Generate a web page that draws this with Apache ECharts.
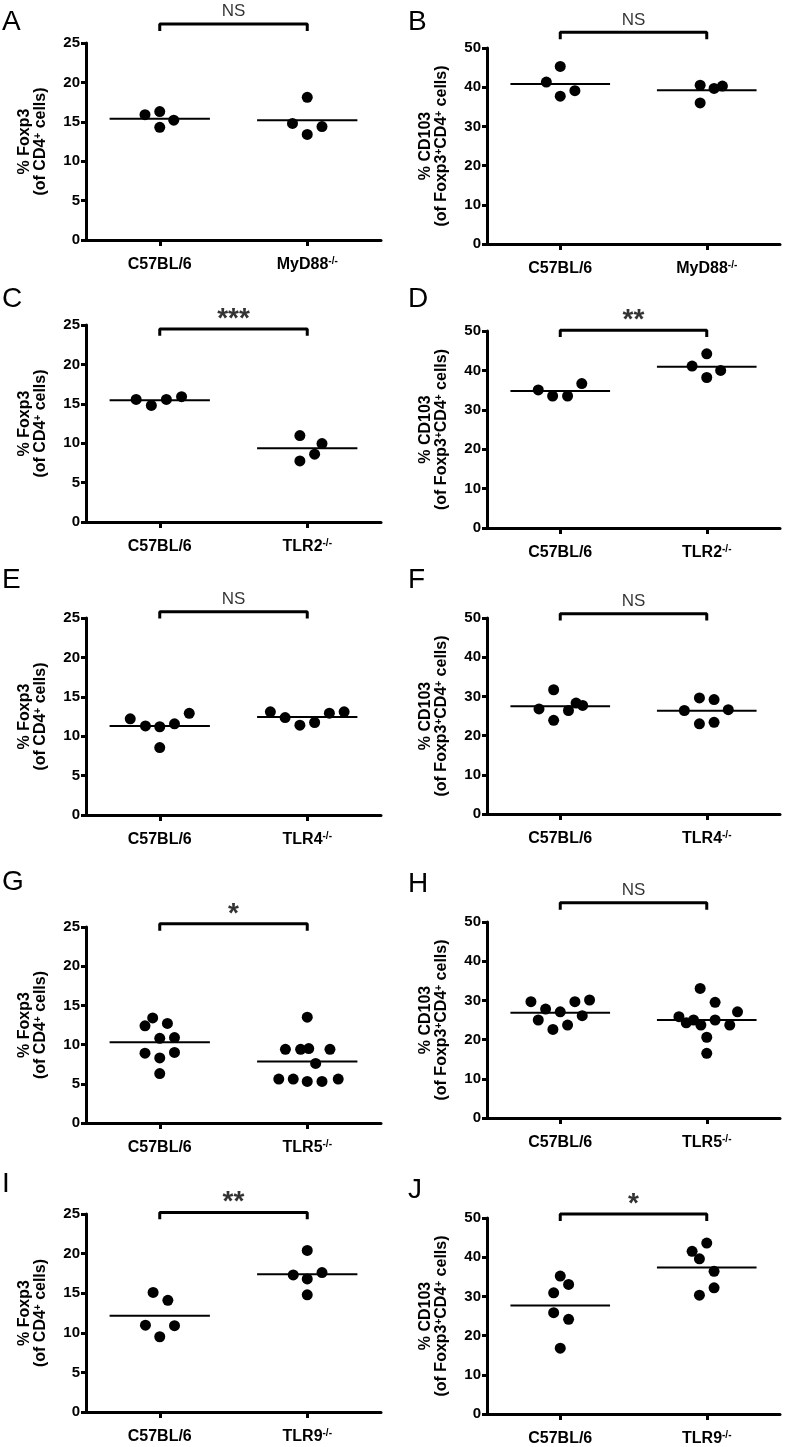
<!DOCTYPE html>
<html><head><meta charset="utf-8">
<script src="https://cdn.jsdelivr.net/npm/echarts@6/dist/echarts.min.js"></script>
<style>html,body{margin:0;padding:0;background:#fff}#c{width:785px;height:1447px}</style>
</head><body><div id="c"></div><script>
// ---------------- DATA ----------------
const ctrlName = 'C57BL/6';
const koNames = ['MyD88', 'MyD88', 'TLR2', 'TLR2', 'TLR4', 'TLR4', 'TLR5', 'TLR5', 'TLR9', 'TLR9'];
const panelLetters = ['A', 'B', 'C', 'D', 'E', 'F', 'G', 'H', 'I', 'J'];
const sigLabels = ['NS', 'NS', '***', '**', 'NS', 'NS', '*', 'NS', '**', '*'];
const yMax = [25, 50, 25, 50, 25, 50, 25, 50, 25, 50];
const yInterval = [5, 10, 5, 10, 5, 10, 5, 10, 5, 10];
// bracket height (axis units)
const bracketY = [27.4, 54.0, 24.5, 50.2, 25.8, 51.1, 25.4, 54.9, 25.2, 51.0];

// values and horizontal jitter (fraction of a category) per group
const A_ctrl = [15.9, 16.3, 15.2, 14.3];           const A_ctrlJit = [-0.10, 0, 0.095, 0];
const A_ko   = [14.8, 18.1, 14.4, 13.4];           const A_koJit   = [-0.10, 0, 0.10, 0];
const A_means = [15.4, 15.2];

const B_ctrl = [41.3, 45.3, 39.1, 37.7];           const B_ctrlJit = [-0.095, 0, 0.10, 0];
const B_ko   = [40.5, 36.0, 39.7, 40.3];           const B_koJit   = [-0.045, -0.045, 0.05, 0.107];
const B_means = [40.8, 39.2];

const C_ctrl = [15.55, 14.8, 15.55, 15.9];         const C_ctrlJit = [-0.16, -0.057, 0.045, 0.148];
const C_ko   = [10.97, 7.75, 8.6, 9.96];           const C_koJit   = [-0.05, -0.05, 0.05, 0.10];
const C_means = [15.45, 9.35];

const D_ctrl = [35.05, 33.5, 33.5, 36.65];         const D_ctrlJit = [-0.15, -0.052, 0.05, 0.147];
const D_ko   = [41.1, 44.2, 38.2, 40.0];           const D_koJit   = [-0.10, 0, 0, 0.095];
const D_means = [34.8, 40.95];

const E_ctrl = [12.2, 11.3, 11.2, 8.56, 11.57, 12.9];     const E_ctrlJit = [-0.20, -0.097, 0, 0, 0.10, 0.20];
const E_ko   = [13.1, 12.37, 11.4, 11.74, 12.92, 13.1];   const E_koJit   = [-0.25, -0.15, -0.05, 0.05, 0.15, 0.25];
const E_means = [11.3, 12.45];

const F_ctrl = [26.8, 31.7, 23.9, 26.4, 28.3, 27.7];      const F_ctrlJit = [-0.145, -0.045, -0.045, 0.056, 0.108, 0.153];
const F_ko   = [26.4, 29.6, 23.0, 29.2, 23.4, 26.6];      const F_koJit   = [-0.153, -0.05, -0.05, 0.05, 0.05, 0.147];
const F_means = [27.47, 26.37];

const G_ctrl = [12.4, 13.4, 12.7, 10.8, 10.9, 8.9, 9.0, 8.3, 6.3];
const G_ctrlJit = [-0.10, -0.048, 0.052, 0, 0.10, -0.10, 0.10, 0, 0];
const G_ko   = [13.5, 9.4, 9.4, 9.5, 9.4, 7.6, 5.6, 5.6, 5.3, 5.3, 5.6];
const G_koJit = [0, -0.148, -0.045, 0.01, 0.154, 0.057, -0.193, -0.095, 0, 0.10, 0.21];
const G_means = [10.3, 7.85];

const H_ctrl = [29.66, 27.8, 25.0, 27.1, 22.6, 23.7, 29.66, 26.1, 30.1];
const H_ctrlJit = [-0.20, -0.10, -0.15, 0, -0.05, 0.05, 0.10, 0.15, 0.20];
const H_ko   = [33.05, 25.85, 24.3, 25.0, 23.7, 29.5, 25.0, 20.6, 23.7, 27.1, 16.5];
const H_koJit = [-0.045, -0.19, -0.14, -0.09, -0.04, 0.057, 0.057, 0, 0.157, 0.21, 0];
const H_means = [26.86, 25.0];

const I_ctrl = [15.1, 14.1, 10.96, 10.9, 9.5];    const I_ctrlJit = [-0.045, 0.055, -0.097, 0.10, 0];
const I_ko   = [20.4, 17.3, 16.8, 17.6, 14.8];    const I_koJit   = [0, -0.095, 0, 0.10, 0];
const I_means = [12.15, 17.38];

const J_ctrl = [35.2, 33.05, 30.9, 25.85, 24.15, 16.8];   const J_ctrlJit = [0, 0.057, -0.045, -0.045, 0.057, 0];
const J_ko   = [43.6, 41.5, 39.6, 36.4, 30.3, 32.2];      const J_koJit   = [0, -0.10, -0.05, 0.05, -0.05, 0.05];
const J_means = [27.7, 37.4];

const groups = [
  [A_ctrl, A_ctrlJit, A_ko, A_koJit, A_means],
  [B_ctrl, B_ctrlJit, B_ko, B_koJit, B_means],
  [C_ctrl, C_ctrlJit, C_ko, C_koJit, C_means],
  [D_ctrl, D_ctrlJit, D_ko, D_koJit, D_means],
  [E_ctrl, E_ctrlJit, E_ko, E_koJit, E_means],
  [F_ctrl, F_ctrlJit, F_ko, F_koJit, F_means],
  [G_ctrl, G_ctrlJit, G_ko, G_koJit, G_means],
  [H_ctrl, H_ctrlJit, H_ko, H_koJit, H_means],
  [I_ctrl, I_ctrlJit, I_ko, I_koJit, I_means],
  [J_ctrl, J_ctrlJit, J_ko, J_koJit, J_means]
];

// ---------------- LAYOUT ----------------
const FONT = '"Liberation Sans", Arial, Helvetica, sans-serif';
const gridBoxes = [
  [86, 43, 295, 197], [487, 48, 293, 196],
  [86, 325, 295, 197], [487, 331, 293, 197],
  [86, 618, 295, 197], [487, 618, 293, 196],
  [86, 927, 295, 196], [487, 922, 293, 196],
  [86, 1214, 295, 198], [487, 1218, 293, 197]
];
const letterPos = [
  [2, 23], [408, 23], [2, 300], [408, 300], [2, 581], [408, 581],
  [2, 883], [408, 885], [2, 1185], [408, 1191]
];
const centers = [0.5, 1.5];
const meanHalf = 0.34;

const chart = echarts.init(document.getElementById('c'), null, {renderer: 'canvas'});

const grids = [], xAxes = [], yAxes = [], series = [], graphics = [];
const supRich = {
  t: {fontFamily: FONT, fontWeight: 'bold', fontSize: 16, color: '#000', lineHeight: 16},
  s: {fontFamily: FONT, fontWeight: 'bold', fontSize: 10, color: '#000', lineHeight: 9, verticalAlign: 'top'}
};
const xRich = {
  n: {fontFamily: FONT, fontWeight: 'bold', fontSize: 16, color: '#000', lineHeight: 18},
  s: {fontFamily: FONT, fontWeight: 'bold', fontSize: 10, color: '#000', lineHeight: 10, verticalAlign: 'top'}
};

for (let i = 0; i < 10; i++) {
  const [l, t, w, h] = gridBoxes[i];
  grids.push({left: l, top: t, width: w, height: h, containLabel: false});
  const isCD103 = yMax[i] === 50;
  const ko = koNames[i];
  xAxes.push({
    type: 'category', gridIndex: i, data: [ctrlName, ko],
    boundaryGap: true,
    axisLine: {show: true, lineStyle: {color: '#000', width: 3}},
    axisTick: {show: true, alignWithLabel: true, length: 6, lineStyle: {color: '#000', width: 3}},
    axisLabel: {
      interval: 0, margin: 16, rich: xRich,
      formatter: v => v === ctrlName ? '{n|' + v + '}' : '{n|' + v + '}{s|-/-}'
    },
    splitLine: {show: false}
  });
  xAxes.push({type: 'value', gridIndex: i, min: 0, max: 2, show: false});
  const yName = isCD103
    ? '{t|% CD103}\n{t|(of Foxp3}{s|+}{t|CD4}{s|+}{t| cells)}'
    : '{t|% Foxp3}\n{t|(of CD4}{s|+}{t| cells)}';
  yAxes.push({
    type: 'value', gridIndex: i, min: 0, max: yMax[i], interval: yInterval[i],
    name: yName, nameLocation: 'middle', nameRotate: 90, nameGap: 37,
    nameTextStyle: {rich: supRich, fontFamily: FONT, fontWeight: 'bold', fontSize: 16, color: '#000'},
    axisLine: {show: true, lineStyle: {color: '#000', width: 3}},
    axisTick: {show: true, length: 5, lineStyle: {color: '#000', width: 3}},
    axisLabel: {margin: 6, fontFamily: FONT, fontWeight: 'bold', fontSize: 15, color: '#000'},
    splitLine: {show: false}
  });

  const [ctrl, ctrlJit, kov, koJit, means] = groups[i];
  const pts = ctrl.map((v, j) => [centers[0] + ctrlJit[j], v])
    .concat(kov.map((v, j) => [centers[1] + koJit[j], v]));
  series.push({
    type: 'scatter', xAxisIndex: 2 * i + 1, yAxisIndex: i, data: pts,
    symbol: 'circle', symbolSize: 11, itemStyle: {color: '#000', opacity: 1}, silent: true, z: 3
  });
  for (let g = 0; g < 2; g++) {
    series.push({
      type: 'line', xAxisIndex: 2 * i + 1, yAxisIndex: i,
      data: [[centers[g] - meanHalf, means[g]], [centers[g] + meanHalf, means[g]]],
      symbol: 'none', lineStyle: {color: '#000', width: 2}, silent: true, z: 2
    });
  }
  const leg = yMax[i] * 0.035;
  const by = bracketY[i];
  series.push({
    type: 'line', xAxisIndex: 2 * i + 1, yAxisIndex: i, clip: false,
    data: [[centers[0], by - leg], [centers[0], by], [centers[1], by], [centers[1], by - leg]],
    symbol: 'none', lineStyle: {color: '#000', width: 3}, silent: true
  });
  const isStar = sigLabels[i] !== 'NS';
  series.push({
    type: 'scatter', xAxisIndex: 2 * i + 1, yAxisIndex: i, clip: false,
    data: [[(centers[0] + centers[1]) / 2, by]], symbolSize: 0, silent: true,
    itemStyle: {color: 'rgba(0,0,0,0)'},
    label: {
      show: true, position: 'top', distance: isStar ? -4 : 4,
      formatter: sigLabels[i], color: '#000', fontFamily: FONT,
      fontWeight: isStar ? 'bold' : 'normal', fontSize: isStar ? 28 : 17
    }
  });

  graphics.push({
    type: 'text', left: letterPos[i][0], top: letterPos[i][1] - 15,
    style: {text: panelLetters[i], fontFamily: FONT, fontSize: 28, fill: '#000'}
  });
}

chart.setOption({
  animation: false,
  backgroundColor: '#fff',
  grid: grids, xAxis: xAxes, yAxis: yAxes, series: series, graphic: graphics
});
</script></body></html>
